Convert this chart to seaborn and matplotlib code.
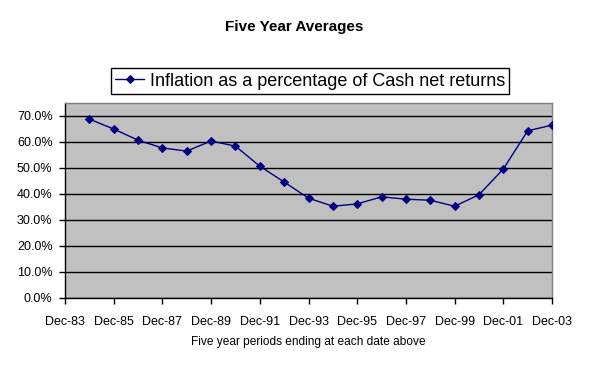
import pandas as pd
import seaborn as sns
import matplotlib.pyplot as plt
from matplotlib.ticker import PercentFormatter

# Five year periods ending each December
years = list(range(1984, 2004))
inflation_pct = [68.8, 65.0, 60.7, 57.7, 56.5, 60.4, 58.4, 50.7, 44.6, 38.4,
                 35.3, 36.2, 38.9, 38.0, 37.6, 35.3, 39.7, 49.6, 64.3, 66.5]
tick_years = list(range(1983, 2004, 2))
tick_labels = ["Dec-83", "Dec-85", "Dec-87", "Dec-89", "Dec-91", "Dec-93",
               "Dec-95", "Dec-97", "Dec-99", "Dec-01", "Dec-03"]
series_name = "Inflation as a percentage of Cash net returns"

df = pd.DataFrame({"year": years, "value": [v / 100 for v in inflation_pct]})

sns.set_style("white")
plt.rcParams["font.family"] = ["Liberation Sans", "DejaVu Sans"]
plt.rcParams["text.color"] = "black"
plt.rcParams["axes.labelcolor"] = "black"
plt.rcParams["xtick.color"] = "black"
plt.rcParams["ytick.color"] = "black"

fig = plt.figure(figsize=(5.89, 3.67), dpi=100)
ax = fig.add_axes([65 / 589, 69 / 367, 487 / 589, 195 / 367])
ax.set_facecolor("#C0C0C0")

# Plot line
sns.lineplot(data=df, x="year", y="value", ax=ax, color="#000080",
             linewidth=1, marker="D", markersize=4.5, markeredgecolor="#000080",
             label=series_name, legend=False, zorder=3)

ax.set_xlim(1983, 2003)
ax.set_ylim(0, 0.75)
ax.set_xticks(tick_years)
ax.set_xticklabels(tick_labels)
ax.set_yticks([i / 10 for i in range(8)])
ax.yaxis.set_major_formatter(PercentFormatter(1.0, decimals=1))
ax.grid(axis="y", color="black", linewidth=1)
ax.grid(axis="x", visible=False)
ax.set_axisbelow(True)

for side in ["top", "right"]:
    ax.spines[side].set_color("#808080")
    ax.spines[side].set_linewidth(1)
for side in ["left", "bottom"]:
    ax.spines[side].set_color("black")
    ax.spines[side].set_linewidth(1)

ax.tick_params(axis="both", direction="out", length=4, width=1, color="black",
               labelsize=9, labelcolor="black", bottom=True, left=True)
ax.tick_params(axis="x", pad=9)
ax.tick_params(axis="y", pad=5)

ax.set_xlabel("Five year periods ending at each date above", fontsize=8.6,
              labelpad=6, color="black")
ax.set_ylabel("")

fig.text(0.5, 1 - 27 / 367, "Five Year Averages", ha="center", va="center",
         fontsize=11, fontweight="bold", color="black")

handles, labels = ax.get_legend_handles_labels()
leg = fig.legend(handles, labels, loc="center", bbox_to_anchor=(310 / 589, 1 - 81 / 367),
                 fontsize=13, frameon=True, fancybox=False, framealpha=1,
                 edgecolor="black", handlelength=1.6, handletextpad=0.3,
                 borderpad=0.25, borderaxespad=0)
leg.get_frame().set_linewidth(1)
for t in leg.get_texts():
    t.set_color("black")

fig.savefig("out.png", dpi=100)
